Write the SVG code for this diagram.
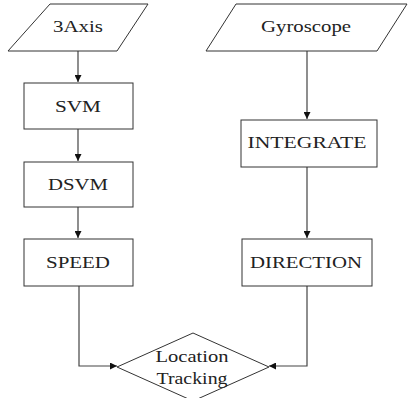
<svg xmlns="http://www.w3.org/2000/svg" width="408" height="398" viewBox="0 0 408 398">
<style>
.s{fill:#fff;stroke:#333;stroke-width:1}
.t{font-family:"Liberation Serif","Times New Roman",serif;font-size:17px;fill:#222;text-anchor:middle}
.c{fill:none;stroke:#444;stroke-width:1.2}
</style>
<defs>
<marker id="a" viewBox="0 0 10 10" refX="10" refY="5" markerWidth="7" markerHeight="7" orient="auto" markerUnits="userSpaceOnUse">
<path d="M0,0L10,5L0,10z" fill="#111"/>
</marker>
</defs>
<rect width="408" height="398" fill="#fff"/>
<g id="connectors">
<path class="c" d="M78,51V82" marker-end="url(#a)"/>
<path class="c" d="M78,129V161" marker-end="url(#a)"/>
<path class="c" d="M78,207V238" marker-end="url(#a)"/>
<path class="c" d="M79,286V366H117" marker-end="url(#a)"/>
<path class="c" d="M307,51V119" marker-end="url(#a)"/>
<path class="c" d="M307,167V238" marker-end="url(#a)"/>
<path class="c" d="M307,286V366H269" marker-end="url(#a)"/>
</g>
<g id="n3axis">
<path class="s" d="M50,4H148L117,51H8Z"/>
<text class="t" x="78" y="32" textLength="50" lengthAdjust="spacingAndGlyphs">3Axis</text>
</g>
<g id="nsvm">
<rect class="s" x="24" y="83" width="109" height="46"/>
<text class="t" x="78" y="112" textLength="46" lengthAdjust="spacingAndGlyphs">SVM</text>
</g>
<g id="ndsvm">
<rect class="s" x="24" y="162" width="109" height="45"/>
<text class="t" x="78" y="190" textLength="60" lengthAdjust="spacingAndGlyphs">DSVM</text>
</g>
<g id="nspeed">
<rect class="s" x="24" y="239" width="109" height="47"/>
<text class="t" x="78" y="268" textLength="64" lengthAdjust="spacingAndGlyphs">SPEED</text>
</g>
<g id="ngyro">
<path class="s" d="M236,4H407L377,51H206Z"/>
<text class="t" x="306" y="32" textLength="90" lengthAdjust="spacingAndGlyphs">Gyroscope</text>
</g>
<g id="nintegrate">
<rect class="s" x="241" y="120" width="136" height="47"/>
<text class="t" x="307" y="148" textLength="119" lengthAdjust="spacingAndGlyphs">INTEGRATE</text>
</g>
<g id="ndirection">
<rect class="s" x="242" y="239" width="130" height="47"/>
<text class="t" x="306" y="268" textLength="112" lengthAdjust="spacingAndGlyphs">DIRECTION</text>
</g>
<g id="nlocation">
<path class="s" d="M117,367L193,333L269,367L193,401Z"/>
<text class="t" x="192" y="362" textLength="73" lengthAdjust="spacingAndGlyphs">Location</text>
<text class="t" x="192" y="384" textLength="71" lengthAdjust="spacingAndGlyphs">Tracking</text>
</g>
</svg>
